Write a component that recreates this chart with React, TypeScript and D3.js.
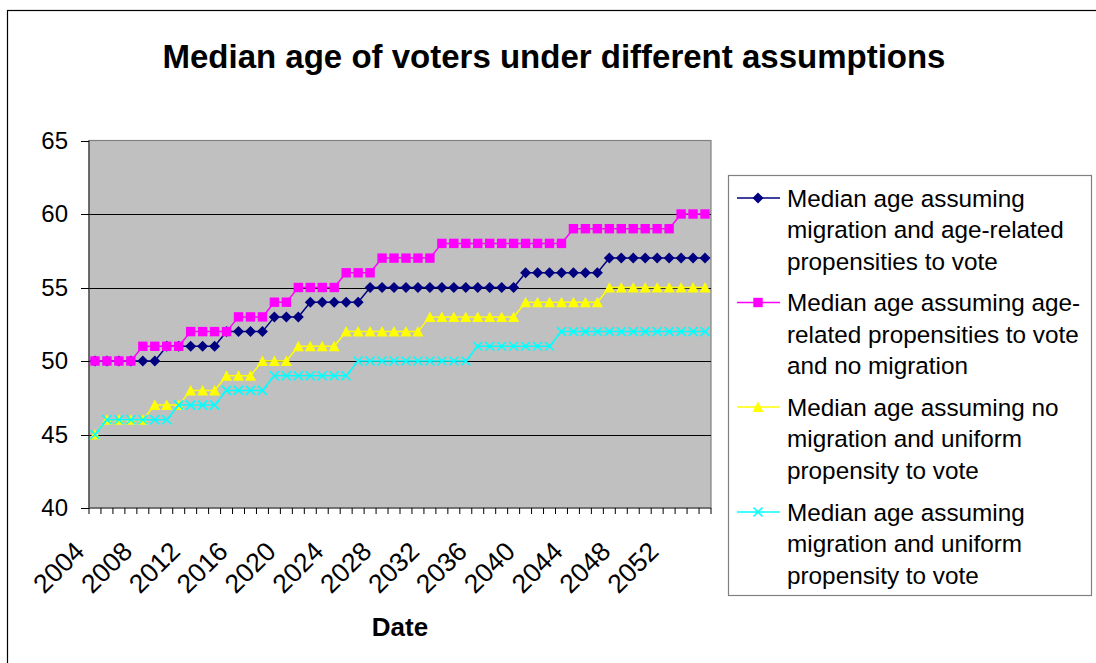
import React from "react";
import * as d3 from "d3";

const years: number[] = [
  2004, 2005, 2006, 2007, 2008, 2009, 2010, 2011, 2012, 2013, 2014, 2015, 2016,
  2017, 2018, 2019, 2020, 2021, 2022, 2023, 2024, 2025, 2026, 2027, 2028, 2029,
  2030, 2031, 2032, 2033, 2034, 2035, 2036, 2037, 2038, 2039, 2040, 2041, 2042,
  2043, 2044, 2045, 2046, 2047, 2048, 2049, 2050, 2051, 2052, 2053, 2054, 2055,
];

const migrationAgeRelated: number[] = [
  50, 50, 50, 50, 50, 50, 51, 51, 51, 51, 51, 52, 52, 52, 52, 53, 53, 53, 54, 54,
  54, 54, 54, 55, 55, 55, 55, 55, 55, 55, 55, 55, 55, 55, 55, 55, 56, 56, 56, 56,
  56, 56, 56, 57, 57, 57, 57, 57, 57, 57, 57, 57,
];
const ageRelatedNoMigration: number[] = [
  50, 50, 50, 50, 51, 51, 51, 51, 52, 52, 52, 52, 53, 53, 53, 54, 54, 55, 55, 55,
  55, 56, 56, 56, 57, 57, 57, 57, 57, 58, 58, 58, 58, 58, 58, 58, 58, 58, 58, 58,
  59, 59, 59, 59, 59, 59, 59, 59, 59, 60, 60, 60,
];
const noMigrationUniform: number[] = [
  45, 46, 46, 46, 46, 47, 47, 47, 48, 48, 48, 49, 49, 49, 50, 50, 50, 51, 51, 51,
  51, 52, 52, 52, 52, 52, 52, 52, 53, 53, 53, 53, 53, 53, 53, 53, 54, 54, 54, 54,
  54, 54, 54, 55, 55, 55, 55, 55, 55, 55, 55, 55,
];
const migrationUniform: number[] = [
  45, 46, 46, 46, 46, 46, 46, 47, 47, 47, 47, 48, 48, 48, 48, 49, 49, 49, 49, 49,
  49, 49, 50, 50, 50, 50, 50, 50, 50, 50, 50, 50, 51, 51, 51, 51, 51, 51, 51, 52,
  52, 52, 52, 52, 52, 52, 52, 52, 52, 52, 52, 52,
];

const seriesNames: string[][] = [
  ["Median age assuming", "migration and age-related", "propensities to vote"],
  ["Median age assuming age-", "related propensities to vote", "and no migration"],
  ["Median age assuming no", "migration and uniform", "propensity to vote"],
  ["Median age assuming", "migration and uniform", "propensity to vote"],
];
const seriesColors: string[] = ["#000080", "#FF00FF", "#FFFF00", "#00FFFF"];
const seriesMarkers: string[] = ["diamond", "square", "triangle", "cross"];
const yTicks: number[] = [40, 45, 50, 55, 60, 65];
const xLabelYears: number[] = [2004, 2008, 2012, 2016, 2020, 2024, 2028, 2032, 2036, 2040, 2044, 2048, 2052];

const FONT = "'Liberation Sans', Arial, sans-serif";

function Marker({ type, x, y, color }: { type: string; x: number; y: number; color: string }) {
  if (type === "diamond") {
    const r = 5.5;
    return <path d={`M${x},${y - r}L${x + r},${y}L${x},${y + r}L${x - r},${y}Z`} fill={color} />;
  }
  if (type === "square") {
    const r = 4.7;
    return <rect x={x - r} y={y - r} width={2 * r} height={2 * r} fill={color} />;
  }
  if (type === "triangle") {
    const r = 5.5;
    return <path d={`M${x},${y - r}L${x + r},${y + r - 0.5}L${x - r},${y + r - 0.5}Z`} fill={color} />;
  }
  const r = 4.5;
  return (
    <path
      d={`M${x - r},${y - r}L${x + r},${y + r}M${x - r},${y + r}L${x + r},${y - r}`}
      stroke={color}
      strokeWidth={1.6}
      fill="none"
    />
  );
}

export default function App() {
  const W = 1096;
  const H = 663;
  const left = 89;
  const right = 711;
  const top = 140.5;
  const bottom = 508;

  const x = d3.scaleBand<number>().domain(years).range([left, right]).padding(0);
  const cx = (yr: number) => (x(yr) as number) + x.bandwidth() / 2;
  const y = d3.scaleLinear().domain([40, 65]).range([bottom, top]);

  const allSeries = [migrationAgeRelated, ageRelatedNoMigration, noMigrationUniform, migrationUniform];
  const line = d3
    .line<number>()
    .x((_, i) => cx(years[i]))
    .y((d) => y(d));

  const legendX = 728;
  const legendTop = 175;
  const legendEntryY = [198, 302.5, 407, 512];

  return (
    <svg
      width={W}
      height={H}
      style={{ position: "absolute", left: 0, top: 0, background: "#fff" }}
      fontFamily={FONT}
    >
      <rect x={0} y={0} width={W} height={H} fill="#fff" />
      <rect x={7.5} y={10.5} width={1100} height={670} fill="none" stroke="#000" strokeWidth={1.2} />

      <text x={554} y={68} textAnchor="middle" fontSize={33} fontWeight="bold" fill="#000">
        Median age of voters under different assumptions
      </text>

      {/* plot area */}
      <rect x={left} y={top} width={right - left} height={bottom - top} fill="#C0C0C0" stroke="#808080" strokeWidth={1.2} />
      {yTicks
        .filter((t) => t > 40 && t < 65)
        .map((t) => (
          <line key={t} x1={left} x2={right} y1={Math.round(y(t)) + 0.5} y2={Math.round(y(t)) + 0.5} stroke="#000" strokeWidth={1} />
        ))}
      {/* axes */}
      <line x1={left} x2={left} y1={top} y2={bottom} stroke="#404040" strokeWidth={1.2} />
      <line x1={left} x2={right} y1={bottom} y2={bottom} stroke="#404040" strokeWidth={1.2} />
      {yTicks.map((t) => (
        <g key={t}>
          <line x1={81} x2={left} y1={Math.round(y(t)) + 0.5} y2={Math.round(y(t)) + 0.5} stroke="#000" />
          <text x={68} y={y(t)} dy="0.35em" textAnchor="end" fontSize={24} fill="#000">
            {t}
          </text>
        </g>
      ))}
      {years.map((yr) => (
        <line key={yr} x1={(x(yr) as number)} x2={(x(yr) as number)} y1={bottom} y2={bottom + 6} stroke="#000" />
      ))}
      <line x1={right} x2={right} y1={bottom} y2={bottom + 6} stroke="#000" />
      {xLabelYears.map((yr) => (
        <text
          key={yr}
          transform={`translate(${cx(yr) - 9},${bottom + 45}) rotate(-45)`}
          textAnchor="end"
          fontSize={26.5}
          fill="#000"
        >
          {yr}
        </text>
      ))}
      <text x={(left + right) / 2} y={636} textAnchor="middle" fontSize={26} fontWeight="bold" fill="#000">
        Date
      </text>

      {/* series */}
      {allSeries.map((s, k) => (
        <g key={k}>
          <path d={line(s) as string} fill="none" stroke={seriesColors[k]} strokeWidth={1.5} />
          {s.map((v, i) => (
            <Marker key={i} type={seriesMarkers[k]} x={cx(years[i])} y={y(v)} color={seriesColors[k]} />
          ))}
        </g>
      ))}

      {/* legend */}
      <rect x={legendX + 0.5} y={legendTop + 0.5} width={363} height={420} fill="#fff" stroke="#808080" strokeWidth={1.2} />
      {seriesNames.map((lines, k) => (
        <g key={k}>
          <line x1={737} x2={780} y1={legendEntryY[k]} y2={legendEntryY[k]} stroke={seriesColors[k]} strokeWidth={1.5} />
          <Marker type={seriesMarkers[k]} x={758} y={legendEntryY[k]} color={seriesColors[k]} />
          {lines.map((ln, j) => (
            <text key={j} x={787} y={legendEntryY[k] + j * 31.5} dy="0.35em" fontSize={24.3} fill="#000">
              {ln}
            </text>
          ))}
        </g>
      ))}
    </svg>
  );
}
